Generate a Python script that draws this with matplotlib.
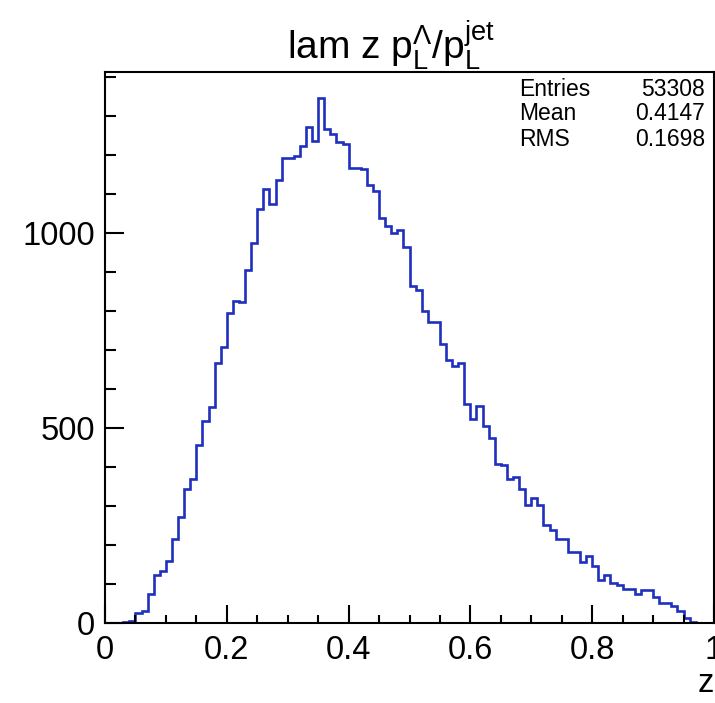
import numpy as np
import matplotlib
matplotlib.use("Agg")
import matplotlib.pyplot as plt
from matplotlib.ticker import MultipleLocator, FixedLocator

plt.rcParams["font.family"] = ["Liberation Sans", "DejaVu Sans"]
plt.rcParams["mathtext.fontset"] = "custom"
plt.rcParams["mathtext.rm"] = "Liberation Sans"
plt.rcParams["mathtext.it"] = "Liberation Sans:italic"
plt.rcParams["mathtext.sf"] = "Liberation Sans"

# histogram: 100 bins of width 0.01 on [0, 1]
bin_edges = np.linspace(0.0, 1.0, 101)
counts = [
    0, 0, 0, 3, 4, 24, 30, 73, 122, 133,
    159, 216, 271, 344, 369, 456, 517, 554, 666, 708,
    795, 827, 822, 906, 974, 1062, 1112, 1074, 1137, 1192,
    1192, 1197, 1224, 1273, 1236, 1347, 1266, 1254, 1234, 1230,
    1166, 1168, 1165, 1124, 1107, 1038, 1019, 1000, 1007, 964,
    864, 853, 801, 772, 772, 715, 674, 659, 666, 561,
    523, 557, 506, 474, 408, 405, 369, 375, 344, 301,
    320, 301, 250, 239, 216, 216, 182, 182, 156, 171,
    146, 109, 122, 103, 96, 86, 86, 73, 84, 84,
    67, 50, 50, 43, 31, 11, 3, 0, 0, 0,
]

stat_names = ["Entries", "Mean", "RMS"]
stat_values = ["53308", "0.4147", "0.1698"]

x_ticks = [0, 0.2, 0.4, 0.6, 0.8, 1.0]
x_tick_labels = ["0", "0.2", "0.4", "0.6", "0.8", "1"]
y_ticks = [0, 500, 1000]
y_tick_labels = ["0", "500", "1000"]

W, H = 715, 703
fig = plt.figure(figsize=(W / 100, H / 100), dpi=100)
ax = fig.add_axes([105 / W, 80.3 / H, (714 - 105) / W, (622.7 - 71.7) / H])

ax.stairs(counts, bin_edges, color="#1f2fbe", linewidth=1.9, baseline=0)

ax.set_xlim(0, 1)
ax.set_ylim(0, 1.05 * max(counts))

for side in ["left", "bottom", "top", "right"]:
    ax.spines[side].set_linewidth(1.5)
    ax.spines[side].set_color("black")

ax.xaxis.set_major_locator(FixedLocator(x_ticks))
ax.set_xticklabels(x_tick_labels)
ax.xaxis.set_minor_locator(MultipleLocator(0.05))
ax.yaxis.set_major_locator(FixedLocator(y_ticks))
ax.set_yticklabels(y_tick_labels)
ax.yaxis.set_minor_locator(MultipleLocator(100))

ax.tick_params(axis="x", which="major", direction="in", length=13, width=1.5,
               labelsize=23.5, pad=9, top=False)
ax.tick_params(axis="x", which="minor", direction="in", length=6, width=1.5, top=False)
ax.tick_params(axis="y", which="major", direction="in", length=13.5, width=1.5,
               labelsize=23.5, pad=7, right=False)
ax.tick_params(axis="y", which="minor", direction="in", length=8, width=1.5, right=False)

# axis title at the lower right
fig.text(706 / W, 1 - 683 / H, "z", fontsize=23.5, ha="center", va="center")

# histogram title
fig.text(391 / W, 1 - 59 / H, r"lam z p$_{\mathrm{L}}^{\Lambda}$/p$_{\mathrm{L}}^{\mathrm{jet}}$",
         fontsize=28, ha="center", va="baseline")

# statistics box
row_y = [89, 114, 139]
for name, val, yy in zip(stat_names, stat_values, row_y):
    fig.text(519 / W, 1 - yy / H, name, fontsize=16.5, ha="left", va="center")
    fig.text(705 / W, 1 - yy / H, val, fontsize=16.5, ha="right", va="center")

fig.savefig("out.png", dpi=100)
